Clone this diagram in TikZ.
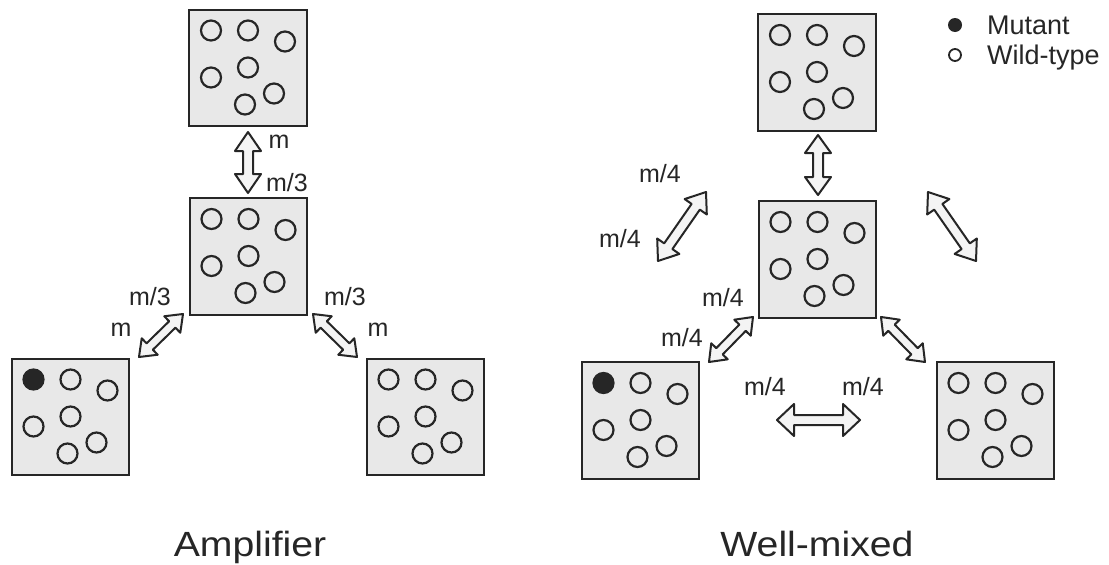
\documentclass[tikz,border=0pt]{standalone}
\usepackage{fontspec}
\setmainfont{Liberation Sans}
\usetikzlibrary{calc}
\definecolor{ink}{HTML}{262626}
\definecolor{boxfill}{HTML}{E8E8E8}
\definecolor{arrfill}{HTML}{F4F4F4}
\tikzset{
  box/.style={draw=ink, fill=boxfill, line width=2.4pt, minimum width=117.5pt, minimum height=116.5pt, inner sep=0pt},
  cell/.style={draw=ink, line width=2.2pt},
  fat/.style={draw=ink, fill=arrfill, line width=2pt, line join=round},
  lab/.style={inner sep=0pt, text=ink, font=\fontsize{25}{30}\selectfont},
  legend/.style={inner sep=0pt, text=ink, anchor=base west, font=\fontsize{27}{32}\selectfont},
  title/.style={inner sep=0pt, text=ink, anchor=base},
}
\newcommand\cellset[2]{%
  \begin{scope}[shift={(#1.center)}]
    \draw[cell,fill=#2] (-37,-37.5) circle[radius=10];
    \draw[cell] (0,-37.5) circle[radius=10];
    \draw[cell] (37,-26.5) circle[radius=10];
    \draw[cell] (-37,9.5) circle[radius=10];
    \draw[cell] (0,-0.5) circle[radius=10];
    \draw[cell] (26,25.5) circle[radius=10];
    \draw[cell] (-3,36.5) circle[radius=10];
  \end{scope}}
\newcommand\fatarrow[5]{%
  \path ($(#1)!#3!(#2)$) coordinate (fa-p) ($(#2)!#3!(#1)$) coordinate (fa-q);
  \draw[fat] (#1) -- ($(fa-p)!#4!90:(#2)$) -- ($(fa-p)!#5!90:(#2)$)
    -- ($(fa-q)!#5!-90:(#1)$) -- ($(fa-q)!#4!-90:(#1)$) -- (#2)
    -- ($(fa-q)!#4!90:(#1)$) -- ($(fa-q)!#5!90:(#1)$)
    -- ($(fa-p)!#5!-90:(#2)$) -- ($(fa-p)!#4!-90:(#2)$) -- cycle;}
\begin{document}
\begin{tikzpicture}[x=1pt,y=-1pt]
\fill[white] (0,0) rectangle (1109,565);
\useasboundingbox (0,0) rectangle (1109,565);

% ---------- Amplifier ----------
\node[box] (Ltop) at (248,68) {};
\node[box] (Lmid) at (248.5,256.5) {};
\node[box] (Lbl) at (70.5,417) {};
\node[box] (Lbr) at (425.5,417) {};
\cellset{Ltop}{none}
\cellset{Lmid}{none}
\cellset{Lbl}{ink}
\cellset{Lbr}{none}

\coordinate (la1) at (248,132); \coordinate (la2) at (248,193);
\coordinate (lb1) at (139,357); \coordinate (lb2) at (183,314);
\coordinate (lc1) at (357,357); \coordinate (lc2) at (313,314);
\fatarrow{la1}{la2}{19pt}{13pt}{5pt}
\fatarrow{lb1}{lb2}{15pt}{11.5pt}{4.5pt}
\fatarrow{lc1}{lc2}{15pt}{11.5pt}{4.5pt}

\node[lab] (lm1) at (279,142) {m};
\node[lab] (lm2) at (287,183) {m/3};
\node[lab] (lm3) at (150,297) {m/3};
\node[lab] (lm4) at (121,330) {m};
\node[lab] (lm5) at (345,297) {m/3};
\node[lab] (lm6) at (378,330) {m};

\node[title] (t1) at (250,556) {\scalebox{1.12}[1]{\fontsize{35}{40}\selectfont Amplifier}};

% ---------- Well-mixed ----------
\node[box] (Rtop) at (817,72.5) {};
\node[box] (Rmid) at (817.5,259.5) {};
\node[box] (Rbl) at (640.5,420.5) {};
\node[box] (Rbr) at (995.5,420.5) {};
\cellset{Rtop}{none}
\cellset{Rmid}{none}
\cellset{Rbl}{ink}
\cellset{Rbr}{none}

\coordinate (ra1) at (818,135); \coordinate (ra2) at (818,195);
\coordinate (rb1) at (658,261); \coordinate (rb2) at (706,192);
\coordinate (rc1) at (976,261); \coordinate (rc2) at (928,192);
\coordinate (rd1) at (709,362); \coordinate (rd2) at (753,317);
\coordinate (re1) at (925,362); \coordinate (re2) at (881,317);
\coordinate (rf1) at (777,420); \coordinate (rf2) at (860,420);
\fatarrow{ra1}{ra2}{18pt}{13pt}{5pt}
\fatarrow{rb1}{rb2}{18pt}{13.5pt}{5pt}
\fatarrow{rc1}{rc2}{18pt}{13.5pt}{5pt}
\fatarrow{rd1}{rd2}{15pt}{11.5pt}{4.5pt}
\fatarrow{re1}{re2}{15pt}{11.5pt}{4.5pt}
\fatarrow{rf1}{rf2}{17pt}{16pt}{5pt}

\node[lab] (rm1) at (660,174) {m/4};
\node[lab] (rm2) at (620,239) {m/4};
\node[lab] (rm3) at (723,298) {m/4};
\node[lab] (rm4) at (682,338) {m/4};
\node[lab] (rm5) at (765,387) {m/4};
\node[lab] (rm6) at (863,387) {m/4};

\node[title] (t2) at (817,556) {\scalebox{1.12}[1]{\fontsize{35}{40}\selectfont Well-mixed}};

% ---------- legend ----------
\fill[ink] (955,25) circle[radius=7];
\draw[ink, line width=1.8pt] (955,55) circle[radius=6];
\node[legend] (lg1) at (987,34) {Mutant};
\node[legend] (lg2) at (987,64) {Wild-type};
\end{tikzpicture}
\end{document}
